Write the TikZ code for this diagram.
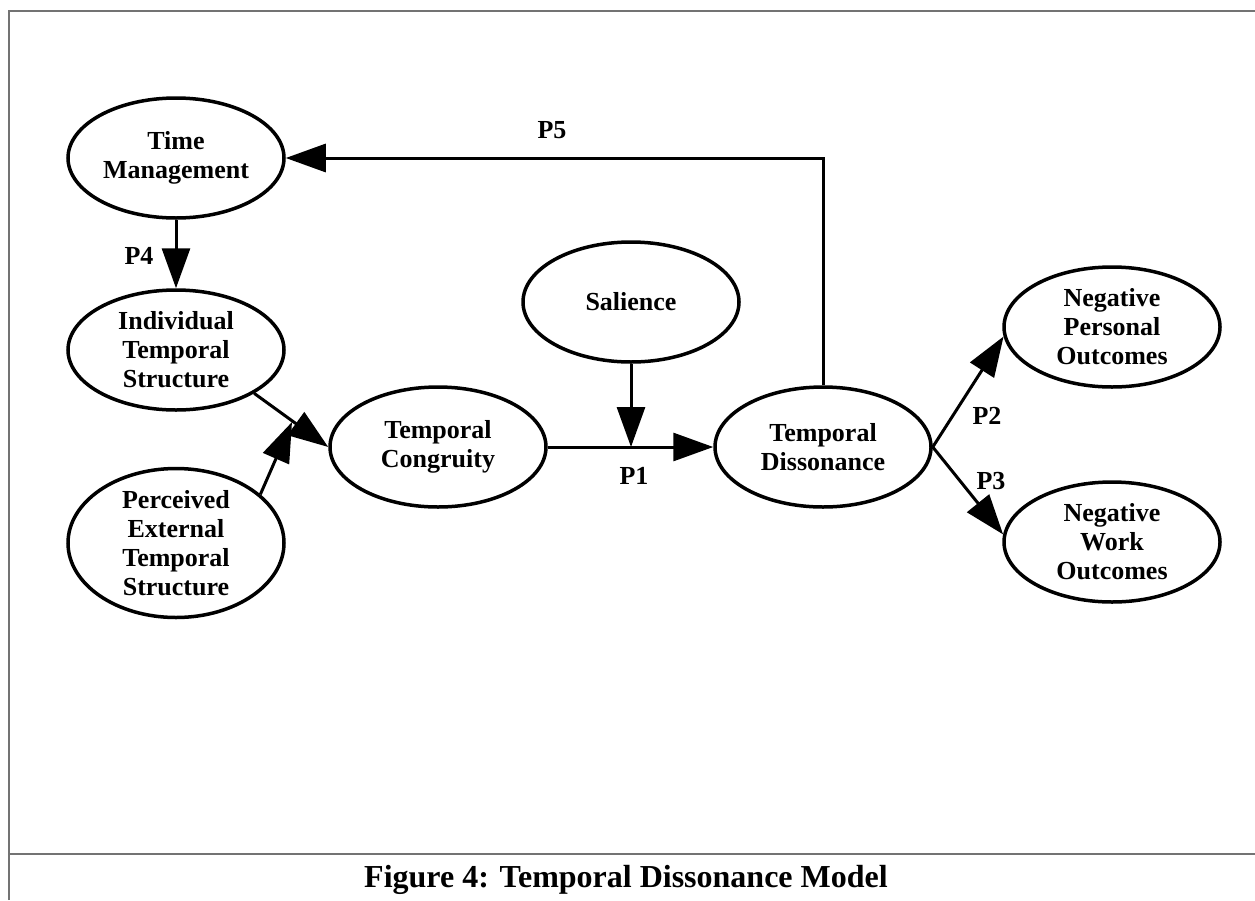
\documentclass[tikz,border=0pt]{standalone}
\usepackage{fontspec}
\setmainfont{Liberation Serif}
\usetikzlibrary{shapes.geometric,arrows.meta}
\begin{document}
\begin{tikzpicture}[x=1pt,y=-1pt,
  concept/.style={draw, ellipse, line width=3.5pt, minimum width=216pt, minimum height=120pt, inner sep=0pt, align=center, font=\fontsize{26}{29}\selectfont\bfseries},
  plabel/.style={font=\fontsize{26}{29}\selectfont\bfseries, inner sep=0pt},
  link/.style={line width=3pt, -{Triangle[length=40pt,width=28pt]}},
  frameline/.style={draw=black!55, line width=2pt}]
\useasboundingbox (0,0) rectangle (1255,900);
% frame
\draw[frameline] (9,900) -- (9,10.5) -- (1255,10.5);
\draw[frameline] (9,854) -- (1255,854);
% nodes
\node[concept] (tm) at (176,158) {Time\\Management};
\node[concept] (its) at (176,350) {Individual\\Temporal\\Structure};
\node[concept] (pets) at (176,543) {Perceived\\External\\Temporal\\Structure};
\node[concept] (tc) at (438,447) {Temporal\\Congruity};
\node[concept] (sal) at (631,302) {Salience};
\node[concept] (td) at (823,447) {Temporal\\Dissonance};
\node[concept] (npo) at (1112,327) {Negative\\Personal\\Outcomes};
\node[concept] (nwo) at (1112,542) {Negative\\Work\\Outcomes};
% helper coordinates
\coordinate (join) at (292,422);
\coordinate (mod) at (631,447);
\coordinate (bend) at (823,158);
% connectors
\draw[link] (tm) -- (its);
\draw[link] (its.-29) -- (tc.west);
\draw[link] (pets.30) -- (join);
\draw[link] (tc) -- (td);
\draw[link] (sal) -- (mod);
\draw[link] (td.east) -- (npo.185);
\draw[link] (td.east) -- (nwo.176);
\draw[link] (td.north) -- (bend) -- (tm.east);
% labels
\node[plabel] (p5) at (552,130) {P5};
\node[plabel] (p4) at (139,256) {P4};
\node[plabel] (p1) at (634,476) {P1};
\node[plabel] (p2) at (987,416) {P2};
\node[plabel] (p3) at (991,481) {P3};
% caption
\node[font=\fontsize{32}{36}\selectfont\bfseries, inner sep=0pt] (cap) at (626,880) {Figure 4: Temporal Dissonance Model};
\end{tikzpicture}
\end{document}
